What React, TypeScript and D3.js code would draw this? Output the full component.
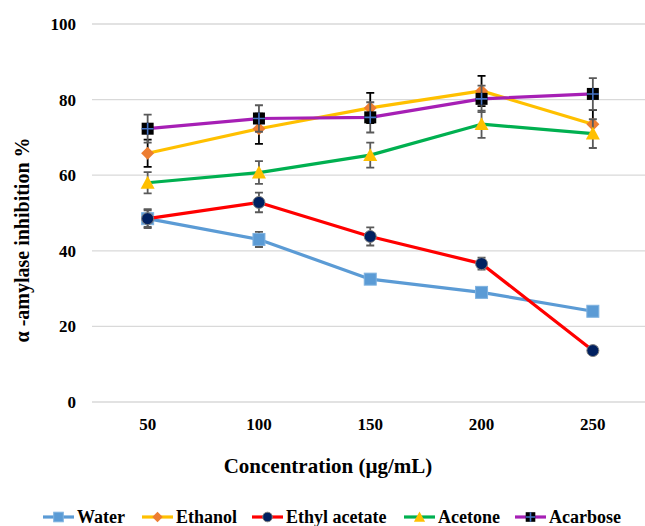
import React, { useEffect, useRef } from 'react';
import * as d3 from 'd3';

const categories = ['50', '100', '150', '200', '250'];
const yTicks = [0, 20, 40, 60, 80, 100];

const seriesNames = ['Water', 'Ethanol', 'Ethyl acetate', 'Acetone', 'Acarbose'];
const waterValues = [48.5, 43, 32.5, 29, 24];
const waterErrors = [2.5, 2, 1.2, 1.2, 1];
const ethanolValues = [65.8, 72.3, 77.8, 82.3, 73.5];
const ethanolErrors = [3.6, 4, 4, 4, 3.7];
const ethylValues = [48.5, 52.8, 43.8, 36.6, 13.6];
const ethylErrors = [2.2, 2.6, 2.4, 1.6, 0.5];
const acetoneValues = [58, 60.7, 65.3, 73.5, 71];
const acetoneErrors = [2.8, 3, 3.3, 3.6, 3.8];
const acarboseValues = [72.3, 75, 75.3, 80.2, 81.5];
const acarboseErrors = [3.7, 3.5, 4, 3.5, 4.2];

const W = 645;
const H = 526;
const FONT = "'Liberation Serif', 'DejaVu Serif', serif";

const App: React.FC = () => {
  const svgRef = useRef<SVGSVGElement>(null);

  useEffect(() => {
    if (!svgRef.current) return;
    const svg = d3.select(svgRef.current);
    svg.selectAll('*').remove();

    const series = [
      { name: seriesNames[0], values: waterValues, errors: waterErrors, line: '#5B9BD5', marker: 'square', fill: '#5B9BD5', stroke: '#7FB2E0', err: '#595959' },
      { name: seriesNames[1], values: ethanolValues, errors: ethanolErrors, line: '#FFC000', marker: 'diamond', fill: '#ED7D31', stroke: '#ED7D31', err: '#000000' },
      { name: seriesNames[2], values: ethylValues, errors: ethylErrors, line: '#FF0000', marker: 'circle', fill: '#002060', stroke: '#7F7F7F', err: '#595959' },
      { name: seriesNames[3], values: acetoneValues, errors: acetoneErrors, line: '#00B050', marker: 'triangle', fill: '#FFC000', stroke: '#FFC000', err: '#595959' },
      { name: seriesNames[4], values: acarboseValues, errors: acarboseErrors, line: '#A61FB5', marker: 'cross', fill: '#000000', stroke: '#000000', err: '#595959' },
    ];

    const x = d3.scaleBand().domain(categories).range([92, 648.5]);
    const y = d3.scaleLinear().domain([0, 100]).range([402, 24]);
    const cx = (c: string) => x(c)! + x.bandwidth() / 2;

    // gridlines
    svg.append('g')
      .selectAll('line')
      .data(yTicks)
      .enter()
      .append('line')
      .attr('x1', 92)
      .attr('x2', 648.5)
      .attr('y1', d => y(d))
      .attr('y2', d => y(d))
      .attr('stroke', '#D9D9D9')
      .attr('stroke-width', 1.3);

    // y tick labels
    svg.append('g')
      .selectAll('text')
      .data(yTicks)
      .enter()
      .append('text')
      .attr('x', 76)
      .attr('y', d => y(d))
      .attr('dy', '0.35em')
      .attr('text-anchor', 'end')
      .style('font-family', FONT)
      .style('font-weight', 'bold')
      .style('font-size', '17px')
      .attr('fill', '#000')
      .text(d => d);

    // x tick labels
    svg.append('g')
      .selectAll('text')
      .data(categories)
      .enter()
      .append('text')
      .attr('x', d => cx(d))
      .attr('y', 430)
      .attr('text-anchor', 'middle')
      .style('font-family', FONT)
      .style('font-weight', 'bold')
      .style('font-size', '17px')
      .attr('fill', '#000')
      .text(d => d);

    // axis titles
    svg.append('text')
      .attr('x', 328)
      .attr('y', 473)
      .attr('text-anchor', 'middle')
      .style('font-family', FONT)
      .style('font-weight', 'bold')
      .style('font-size', '21px')
      .text('Concentration (µg/mL)');

    svg.append('text')
      .attr('transform', 'translate(29,240) rotate(-90)')
      .attr('text-anchor', 'middle')
      .style('font-family', FONT)
      .style('font-weight', 'bold')
      .style('font-size', '20px')
      .text('α -amylase inhibition %');

    const drawMarker = (g: any, s: typeof series[number], px: number, py: number, scale = 1) => {
      if (s.marker === 'square') {
        const r = 6 * scale;
        g.append('rect').attr('x', px - r).attr('y', py - r).attr('width', 2 * r).attr('height', 2 * r)
          .attr('fill', s.fill).attr('stroke', s.stroke).attr('stroke-width', 1);
      } else if (s.marker === 'diamond') {
        const r = 6.5 * scale;
        g.append('path').attr('d', `M${px},${py - r}L${px + r},${py}L${px},${py + r}L${px - r},${py}Z`)
          .attr('fill', s.fill);
      } else if (s.marker === 'circle') {
        g.append('circle').attr('cx', px).attr('cy', py).attr('r', 6 * scale)
          .attr('fill', s.fill).attr('stroke', s.stroke).attr('stroke-width', 1);
      } else if (s.marker === 'triangle') {
        const r = 7 * scale;
        g.append('path').attr('d', `M${px},${py - r}L${px + r},${py + r * 0.85}L${px - r},${py + r * 0.85}Z`)
          .attr('fill', s.fill);
      } else {
        const r = 6 * scale;
        g.append('rect').attr('x', px - r).attr('y', py - r).attr('width', 2 * r).attr('height', 2 * r)
          .attr('fill', '#000');
        g.append('path').attr('d', `M${px - r},${py}H${px + r}M${px},${py - r}V${py + r}`)
          .attr('stroke', '#4472C4').attr('stroke-width', 1.6);
      }
    };

    const line = d3.line<number>()
      .x((_, i) => cx(categories[i]))
      .y(d => y(d));

    series.forEach(s => {
      const g = svg.append('g');
      g.append('path')
        .attr('d', line(s.values)!)
        .attr('fill', 'none')
        .attr('stroke', s.line)
        .attr('stroke-width', 3.2)
        .attr('stroke-linejoin', 'round');

      s.values.forEach((v, i) => {
        const px = cx(categories[i]);
        const e = s.errors[i];
        g.append('path')
          .attr('d', `M${px},${y(v + e)}V${y(v - e)}M${px - 4},${y(v + e)}H${px + 4}M${px - 4},${y(v - e)}H${px + 4}`)
          .attr('stroke', s.err)
          .attr('stroke-width', 1.8)
          .attr('fill', 'none');
      });
      s.values.forEach((v, i) => drawMarker(g, s, cx(categories[i]), y(v)));
    });

    // legend
    const legendX = [43, 142, 252, 404, 515];
    const leg = svg.append('g');
    series.forEach((s, i) => {
      const lx = legendX[i];
      const ly = 517;
      leg.append('line').attr('x1', lx).attr('x2', lx + 31).attr('y1', ly).attr('y2', ly)
        .attr('stroke', s.line).attr('stroke-width', 3.2);
      drawMarker(leg, s, lx + 15.5, ly, 0.8);
      leg.append('text')
        .attr('x', lx + 34)
        .attr('y', ly)
        .attr('dy', '0.35em')
        .style('font-family', FONT)
        .style('font-weight', 'bold')
        .style('font-size', '18px')
        .text(s.name);
    });
  }, []);

  return (
    <div style={{ position: 'absolute', left: 0, top: 0, width: W, height: H, background: '#fff', overflow: 'hidden' }}>
      <svg ref={svgRef} width={W} height={H} viewBox={`0 0 ${W} ${H}`} style={{ display: 'block' }} />
    </div>
  );
};

export default App;
